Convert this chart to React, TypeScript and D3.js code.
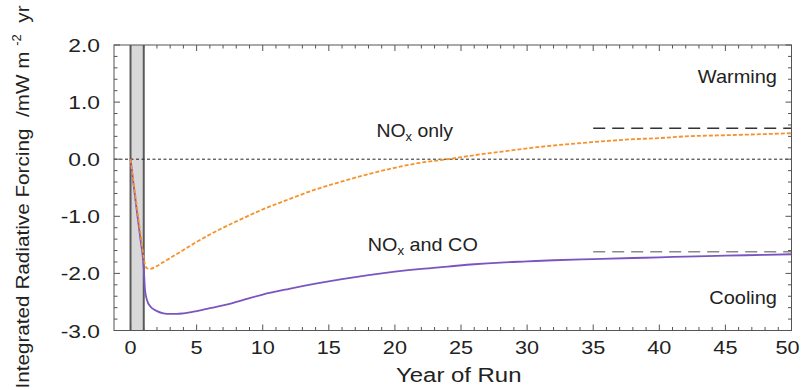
import React from 'react'
import * as d3 from 'd3'

// years since start of run
const years = [0, 0.25, 0.5, 0.75, 1.0, 1.1, 1.25, 1.5, 2, 2.5, 3, 3.5, 4, 5, 6, 7, 8, 10, 12, 14, 16, 18, 20, 22, 24, 26, 28, 30, 32, 35, 38, 40, 42, 45, 48, 50]

// integrated radiative forcing, mW m-2 yr
const noxOnly = [0, -0.45, -0.87, -1.3, -1.72, -1.85, -1.91, -1.92, -1.87, -1.8, -1.73, -1.66, -1.59, -1.45, -1.32, -1.2, -1.09, -0.88, -0.7, -0.53, -0.39, -0.26, -0.15, -0.06, 0.0, 0.07, 0.13, 0.19, 0.24, 0.3, 0.35, 0.37, 0.4, 0.42, 0.44, 0.455]
const noxAndCo = [0, -0.48, -0.95, -1.4, -1.9, -2.3, -2.47, -2.58, -2.66, -2.7, -2.71, -2.71, -2.7, -2.66, -2.61, -2.56, -2.5, -2.37, -2.27, -2.18, -2.1, -2.03, -1.97, -1.92, -1.88, -1.84, -1.81, -1.79, -1.77, -1.75, -1.73, -1.72, -1.705, -1.69, -1.675, -1.665]

// steady state levels (dashed markers at the right)
const steadyStart = 35
const steadyEnd = 50
const steadyNox = 0.54
const steadyNoxCo = -1.62

// emission period shading
const emitStart = 0
const emitEnd = 1

const xTicks = [0, 5, 10, 15, 20, 25, 30, 35, 40, 45, 50]
const yTicks = [2, 1, 0, -1, -2, -3]

const W = 801
const H = 390
const margin = { top: 45, right: 9.5, bottom: 59.5, left: 114 }
const FONT = '"Liberation Sans", Arial, Helvetica, sans-serif'
const INK = '#222'

// text drawn a bit wider than the font, like the original image
const Wide = ({ x, y, sx, size, anchor = 'start', children }: any) => (
    <g transform={`translate(${x},${y}) scale(${sx},1)`}>
        <text x={0} y={0} textAnchor={anchor} fontSize={size} fill={INK}>{children}</text>
    </g>
)

const App = () => {
    const x = d3.scaleLinear().domain([-1.25, 50]).range([margin.left, W - margin.right])
    const y = d3.scaleLinear().domain([-3, 2]).range([H - margin.bottom, margin.top])

    const line = d3.line<[number, number]>()
        .x(d => x(d[0]))
        .y(d => y(d[1]))
        .curve(d3.curveMonotoneX)

    const noxPts = years.map((t, i) => [t, noxOnly[i]] as [number, number])
    const coPts = years.map((t, i) => [t, noxAndCo[i]] as [number, number])

    const x0 = margin.left
    const x1 = W - margin.right
    const y0 = margin.top
    const y1 = H - margin.bottom

    const xMinor = d3.range(0, 51, 1)
    const yMinor = d3.range(-3, 2.001, 0.2)

    const frameCol = '#555'
    const xLabelSize = 19
    const xLabelSx = 1.14

    return (
        <svg width={W} height={H} style={{ position: 'absolute', left: 0, top: 0, background: '#fff' }} fontFamily={FONT}>
            {/* emission period */}
            <rect x={x(emitStart)} y={y0} width={x(emitEnd) - x(emitStart)} height={y1 - y0} fill="#d9d9d9" />
            <line x1={x(emitStart)} x2={x(emitStart)} y1={y0} y2={y1} stroke="#5a5a5a" strokeWidth={2} />
            <line x1={x(emitEnd)} x2={x(emitEnd)} y1={y0} y2={y1} stroke="#5a5a5a" strokeWidth={2} />

            {/* zero line */}
            <line x1={x0} x2={x1} y1={y(0)} y2={y(0)} stroke="#222" strokeWidth={1} strokeDasharray="3,2.5" />

            {/* steady-state markers */}
            <line x1={x(steadyStart)} x2={x(steadyEnd)} y1={y(steadyNox)} y2={y(steadyNox)} stroke="#333" strokeWidth={1.5} strokeDasharray="12,7" />
            <line x1={x(steadyStart)} x2={x(steadyEnd)} y1={y(steadyNoxCo)} y2={y(steadyNoxCo)} stroke="#8a8a8a" strokeWidth={1.5} strokeDasharray="12,7" />

            {/* curves */}
            <path d={line(coPts) || ''} fill="none" stroke="#7a55c0" strokeWidth={1.8} />
            <path d={line(noxPts) || ''} fill="none" stroke="#f7922a" strokeWidth={1.8} strokeDasharray="4,2" />

            {/* frame */}
            <rect x={x0} y={y0} width={x1 - x0} height={y1 - y0} fill="none" stroke={frameCol} strokeWidth={1} />

            {/* ticks, inward on all sides */}
            {xMinor.map(t => {
                const len = t % 5 === 0 ? 6 : 3.5
                return (
                    <g key={'xt' + t} stroke={frameCol} strokeWidth={1}>
                        <line x1={x(t)} x2={x(t)} y1={y1} y2={y1 - len} />
                        <line x1={x(t)} x2={x(t)} y1={y0} y2={y0 + len} />
                    </g>
                )
            })}
            {yMinor.map(v => {
                const major = Math.abs(v - Math.round(v)) < 1e-6
                const len = major ? 6 : 3.5
                return (
                    <g key={'yt' + v.toFixed(1)} stroke={frameCol} strokeWidth={1}>
                        <line x1={x0} x2={x0 + len} y1={y(v)} y2={y(v)} />
                        <line x1={x1} x2={x1 - len} y1={y(v)} y2={y(v)} />
                    </g>
                )
            })}

            {/* tick labels */}
            {xTicks.map(t => {
                const half = String(t).length * 0.556 * xLabelSize * xLabelSx / 2
                const cx = Math.min(x(t), W - 1.5 - half)
                return <Wide key={'xl' + t} x={cx} y={y1 + 23} sx={xLabelSx} size={xLabelSize} anchor="middle">{t}</Wide>
            })}
            {yTicks.map(v => (
                <Wide key={'yl' + v} x={x0 - 14} y={y(v) + 7} sx={1.2} size={19} anchor="end">{v.toFixed(1)}</Wide>
            ))}

            {/* axis titles */}
            <Wide x={(x0 + x1) / 2 + 6} y={H - 8} sx={1.14} size={21} anchor="middle">Year of Run</Wide>
            <g transform={`translate(29, ${(6 + 388) / 2}) rotate(-90) scale(1.09,1)`}>
                <text x={0} y={0} textAnchor="middle" fontSize={19} fill={INK} style={{ whiteSpace: 'pre' }}>
                    {'Integrated Radiative Forcing  /mW m '}<tspan fontSize={12} dy={-8}>-2</tspan><tspan dy={8}>{'  yr'}</tspan>
                </text>
            </g>

            {/* annotations */}
            <Wide x={x(48.9)} y={y(1.33)} sx={1.11} size={18} anchor="end">Warming</Wide>
            <Wide x={x(48.9)} y={y(-2.54)} sx={1.11} size={18} anchor="end">Cooling</Wide>
            <Wide x={x(18.6)} y={y(0.386)} sx={1.08} size={18}>
                NO<tspan fontSize={12} dy={4}>x</tspan><tspan dy={-4}> only</tspan>
            </Wide>
            <Wide x={x(17.95)} y={y(-1.61)} sx={1.1} size={18}>
                NO<tspan fontSize={12} dy={4}>x</tspan><tspan dy={-4}> and CO</tspan>
            </Wide>
        </svg>
    )
}

export default App
